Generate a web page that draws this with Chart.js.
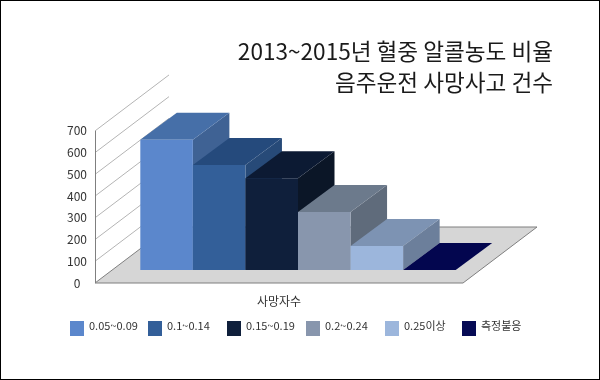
<!DOCTYPE html>
<html lang="ko">
<head>
<meta charset="utf-8">
<style>
html,body{margin:0;padding:0;background:#fff}
canvas{display:block;outline:1px solid #000;outline-offset:-1px}
</style>
<script src="https://cdn.jsdelivr.net/npm/chart.js@4/dist/chart.umd.min.js"></script>
</head>
<body>
<canvas id="c" width="600" height="380"></canvas>
<script>
const titleLines = ['2013~2015년 혈중 알콜농도 비율', '음주운전 사망사고 건수'];
const categories = ['사망자수'];
const seriesNames = ['0.05~0.09', '0.1~0.14', '0.15~0.19', '0.2~0.24', '0.25이상', '측정불응'];
const seriesValues = [599, 483, 422, 267, 110, 0];
const yTicks = [0, 100, 200, 300, 400, 500, 600, 700];

const frontColors = ['#5b87cc', '#335f99', '#0f1f3b', '#8896ad', '#9cb6dc', '#060b55'];
const topColors   = ['#466fa8', '#254a7c', '#0c1a33', '#6c7a8c', '#7d93b3', '#03064f'];
const sideColors  = ['#3f6294', '#274a78', '#0b1627', '#5f6b7b', '#6c7f9b', '#03064f'];
const legendX = [70, 148, 227, 306, 385, 462];

const FONT = '"Noto Sans CJK KR","Noto Sans",sans-serif';
const WALL = {dx: 74, dy: -56};       // depth of the floor / left wall
const OFFSET = {dx: 19, dy: -13};     // front plane of the bars inside the floor
const BAR = {dx: 36.5, dy: -27};      // depth of each bar

function poly(ctx, pts, fill, stroke) {
  ctx.beginPath();
  pts.forEach((p, i) => i ? ctx.lineTo(p[0], p[1]) : ctx.moveTo(p[0], p[1]));
  ctx.closePath();
  if (fill) { ctx.fillStyle = fill; ctx.fill(); }
  if (stroke) { ctx.strokeStyle = stroke; ctx.lineWidth = 1; ctx.stroke(); }
}

const scene3d = {
  id: 'scene3d',
  beforeDatasetsDraw(chart) {
    const {ctx, chartArea: a, scales: {y}} = chart;
    const y0 = y.getPixelForValue(0);
    ctx.save();
    // floor
    poly(ctx, [[a.left, y0], [a.right, y0], [a.right + WALL.dx, y0 + WALL.dy], [a.left + WALL.dx, y0 + WALL.dy]], '#d6d6d6', '#7f7f7f');
    // left wall grid lines
    ctx.strokeStyle = '#b4b4b4';
    ctx.lineWidth = 1;
    yTicks.slice(1).forEach(v => {
      const py = y.getPixelForValue(v);
      ctx.beginPath();
      ctx.moveTo(a.left, py);
      ctx.lineTo(a.left + WALL.dx, py + WALL.dy);
      ctx.stroke();
    });
    ctx.strokeStyle = '#7f7f7f';
    ctx.beginPath();
    ctx.moveTo(a.left + 0.5, y.getPixelForValue(700));
    ctx.lineTo(a.left + 0.5, y0);
    ctx.stroke();
    // bars, left to right, each one over the side of the one before it
    ctx.translate(OFFSET.dx, OFFSET.dy);
    seriesValues.forEach((_, i) => {
      const bar = chart.getDatasetMeta(i).data[0];
      const half = bar.width / 2;
      const l = bar.x - half, r = bar.x + half, t = bar.y, b = bar.base;
      poly(ctx, [[r, t], [r + BAR.dx, t + BAR.dy], [r + BAR.dx, b + BAR.dy], [r, b]], sideColors[i]);
      poly(ctx, [[l, t], [r, t], [r + BAR.dx, t + BAR.dy], [l + BAR.dx, t + BAR.dy]], topColors[i]);
      bar.draw(ctx);
    });
    ctx.restore();
  },
  beforeDatasetDraw() { return false; },
  afterDraw(chart) {
    const {ctx} = chart;
    ctx.save();
    ctx.font = '11px ' + FONT;
    ctx.textBaseline = 'middle';
    ctx.textAlign = 'left';
    seriesNames.forEach((name, i) => {
      ctx.fillStyle = frontColors[i];
      ctx.fillRect(legendX[i], 321, 14, 15);
      ctx.fillStyle = '#333';
      ctx.fillText(name, legendX[i] + 19, 326);
    });
    ctx.restore();
  }
};

new Chart(document.getElementById('c'), {
  type: 'bar',
  data: {
    labels: categories,
    datasets: seriesNames.map((name, i) => ({
      label: name,
      data: [seriesValues[i]],
      backgroundColor: frontColors[i],
      borderWidth: 0,
      categoryPercentage: 0.857,
      barPercentage: 1
    }))
  },
  plugins: [scene3d],
  options: {
    responsive: false,
    animation: false,
    layout: {padding: {left: 0, right: 47, top: 0, bottom: 0}},
    plugins: {
      legend: {display: false},
      tooltip: {enabled: false},
      title: {
        display: true,
        text: titleLines,
        align: 'end',
        color: '#1a1a1a',
        font: {family: FONT, size: 22.6, weight: 'normal', lineHeight: 1.37},
        padding: {top: 36, bottom: 33}
      }
    },
    scales: {
      x: {
        grid: {display: false},
        border: {display: false},
        ticks: {color: '#333', font: {family: FONT, size: 12}, padding: 3},
        afterFit(s) { s.height = 97; }
      },
      y: {
        min: 0,
        max: 700,
        grid: {display: false, drawTicks: false},
        border: {display: false},
        afterBuildTicks(s) { s.ticks = yTicks.map(v => ({value: v})); },
        ticks: {color: '#333', font: {family: FONT, size: 12}, crossAlign: 'center', padding: 8},
        afterFit(s) { s.width = 95; }
      },
      yRight: {
        position: 'right',
        grid: {display: false},
        border: {display: false},
        ticks: {display: false},
        afterFit(s) { s.width = 90; }
      }
    }
  }
});
</script>
</body>
</html>
